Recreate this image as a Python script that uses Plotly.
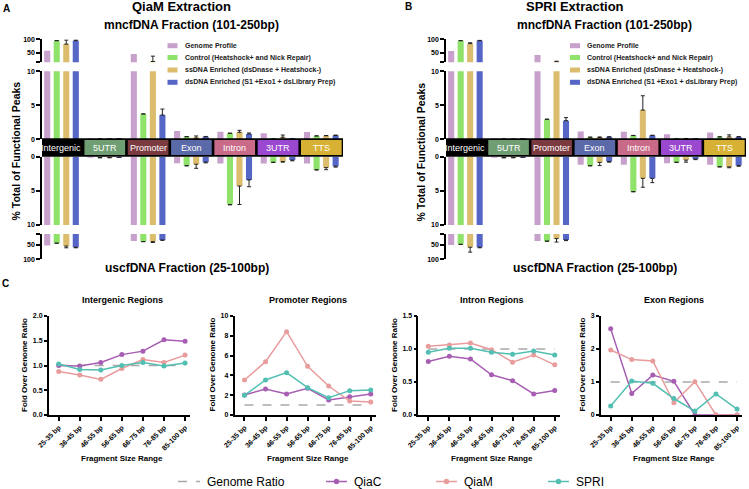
import plotly.graph_objects as go

W, H = 749, 489
FONT = "Liberation Sans, Arial, sans-serif"

# ---------------- data ----------------
categories = ["Intergenic", "5UTR", "Promoter", "Exon", "Intron", "3UTR", "TTS"]
series_names = ["Genome Profile", "Control (Heatshock+ and Nick Repair)",
                "ssDNA Enriched (dsDnase + Heatshock-)",
                "dsDNA Enriched (S1 +Exo1 + dsLibrary Prep)"]

# Panel A: QiaM extraction, mncfDNA (101-250bp)
qiam_mn_genome = [57, 0.02, 45, 1.22, 1.12, 0.88, 1.07]
qiam_mn_control = [95, 0.03, 3.72, 0.38, 0.88, 0.03, 0.49]
qiam_mn_ss = [82, 0.03, 17, 0.15, 1.03, 0.3, 0.52]
qiam_mn_ss_err = [15, 0, 20, 0.34, 0.29, 0.33, 0.04]
qiam_mn_ds = [95, 0.03, 3.57, 0.38, 0.78, 0.03, 0.56]
qiam_mn_ds_err = [2, 0, 0.88, 0.04, 0.15, 0, 0.06]
# Panel A: QiaM extraction, uscfDNA (25-100bp)
qiam_us_genome = [52, 0.05, 36, 0.97, 1.0, 1.0, 1.0]
qiam_us_control = [44, 0.12, 38.5, 1.3, 7.0, 0.8, 1.9]
qiam_us_ss = [54, 0.12, 38.5, 1.1, 4.3, 0.7, 1.6]
qiam_us_ss_err = [6, 0.04, 3, 0.6, 2.7, 0.1, 0.3]
qiam_us_ds = [58, 0.06, 33, 0.8, 3.4, 0.5, 1.4]
qiam_us_ds_err = [2, 0, 1, 0.1, 1.0, 0.1, 0.12]

# Panel B: SPRI extraction, mncfDNA (101-250bp)
spri_mn_genome = [56, 0.02, 41, 1.15, 1.1, 0.75, 1.0]
spri_mn_control = [95, 0.02, 2.94, 0.3, 0.55, 0.03, 0.35]
spri_mn_ss = [84, 0.02, 16, 0.25, 4.3, 0.02, 0.35]
spri_mn_ss_err = [3, 0, 2, 0.1, 2.1, 0.1, 0.3]
spri_mn_ds = [95, 0.02, 2.74, 0.35, 0.55, 0.03, 0.35]
spri_mn_ds_err = [1, 0, 0.45, 0.03, 0.05, 0, 0.05]
# Panel B: SPRI extraction, uscfDNA (25-100bp)
spri_us_genome = [50, 0.05, 36, 1.17, 1.17, 0.97, 1.17]
spri_us_control = [48, 0.12, 37, 1.3, 5.1, 0.8, 1.46]
spri_us_ss = [58, 0.12, 28, 0.83, 3.17, 0.5, 1.5]
spri_us_ss_err = [17, 0.04, 12, 0.47, 1.3, 0.3, 0.12]
spri_us_ds = [58, 0.06, 33, 0.7, 3.17, 0.35, 1.3]
spri_us_ds_err = [2, 0, 2, 0.1, 0.63, 0.08, 0.1]

# Panel C: fold over genome ratio
size_ranges = ["25-35 bp", "36-45 bp", "46-55 bp", "56-65 bp", "66-75 bp", "76-85 bp", "85-100 bp"]
genome_ratio = [1, 1, 1, 1, 1, 1, 1]
intergenic_qiac = [1.0, 0.99, 1.06, 1.22, 1.29, 1.52, 1.49]
intergenic_qiam = [0.88, 0.81, 0.72, 0.94, 1.12, 1.06, 1.21]
intergenic_spri = [1.03, 0.92, 0.91, 1.0, 1.06, 0.99, 1.05]
promoter_qiac = [2.02, 2.63, 2.12, 2.69, 1.52, 1.85, 2.12]
promoter_qiam = [3.54, 5.39, 8.42, 4.92, 2.93, 1.41, 1.31]
promoter_spri = [1.99, 3.54, 4.28, 2.76, 1.75, 2.46, 2.53]
intron_qiac = [0.81, 0.89, 0.85, 0.61, 0.52, 0.32, 0.37]
intron_qiam = [1.04, 1.06, 1.09, 0.99, 0.80, 0.91, 0.76]
intron_spri = [0.95, 1.01, 1.01, 0.95, 0.92, 0.97, 0.91]
exon_qiac = [2.61, 0.65, 1.21, 1.02, 0.0, 0.0, 0.0]
exon_qiam = [1.97, 1.68, 1.64, 0.37, 1.01, 0.0, 0.0]
exon_spri = [0.27, 1.03, 0.96, 0.50, 0.12, 0.64, 0.18]

# ---------------- styles ----------------
BAR_COLORS = ["#c7a0cc", "#8fe26a", "#dcbd6e", "#5566c6"]
STRIP_COLORS = ["#000000", "#6f9e72", "#7b3a40", "#5a69a8", "#c96b88", "#9b48d0", "#d6b133"]
LINE_COLORS = {"QiaC": "#a65db2", "QiaM": "#e99c9c", "SPRI": "#52bfb2"}


def fx(px):
    return px / W


def fy(px):
    return 1 - px / H


def dom(top, bottom):
    return [1 - bottom / H, 1 - top / H]


fig = go.Figure()

panels = [
    dict(xa="x", xkey="xaxis", ys=["y", "y2", "y3", "y4"], xdom=(42, 343),
         upper=[qiam_mn_genome, qiam_mn_control, qiam_mn_ss, qiam_mn_ds],
         upper_err=[None, [0.02] * 7, qiam_mn_ss_err, qiam_mn_ds_err],
         lower=[qiam_us_genome, qiam_us_control, qiam_us_ss, qiam_us_ds],
         lower_err=[None, [0.05] * 7, qiam_us_ss_err, qiam_us_ds_err]),
    dict(xa="x2", xkey="xaxis2", ys=["y5", "y6", "y7", "y8"], xdom=(446, 746),
         upper=[spri_mn_genome, spri_mn_control, spri_mn_ss, spri_mn_ds],
         upper_err=[None, [0.02] * 7, spri_mn_ss_err, spri_mn_ds_err],
         lower=[spri_us_genome, spri_us_control, spri_us_ss, spri_us_ds],
         lower_err=[None, [0.05] * 7, spri_us_ss_err, spri_us_ds_err]),
]

for p in panels:
    for k, ya in enumerate(p["ys"]):
        vals = p["upper"] if k < 2 else p["lower"]
        errs = p["upper_err"] if k < 2 else p["lower_err"]
        for s in range(4):
            kw = {}
            if errs[s] is not None:
                kw["error_y"] = dict(type="data", symmetric=False, array=errs[s],
                                     arrayminus=[0] * 7, color="#222222",
                                     thickness=1, width=2)
            fig.add_trace(go.Bar(x=categories, y=vals[s], xaxis=p["xa"], yaxis=ya,
                                 marker=dict(color=BAR_COLORS[s], line=dict(width=0)),
                                 name=series_names[s], showlegend=False, **kw))


def yax(domain, rng, tickvals, ticktext, anchor, size=7):
    return dict(domain=domain, range=rng, tickvals=tickvals, ticktext=ticktext,
                anchor=anchor, showline=True, linecolor="black", linewidth=1.5,
                ticks="outside", ticklen=4, tickwidth=1.5, tickcolor="black",
                tickfont=dict(size=size, family=FONT, color="black", weight="bold"),
                showgrid=False, zeroline=False, fixedrange=True, automargin=False)


layout_axes = {}
for p in panels:
    layout_axes[p["xkey"]] = dict(domain=[fx(p["xdom"][0]), fx(p["xdom"][1])],
                                  range=[-0.45, 6.5], visible=False, type="category",
                                  anchor=p["ys"][2], fixedrange=True, automargin=False)
    names = ["yaxis" + ys[1:] for ys in p["ys"]]
    layout_axes[names[0]] = yax(dom(39.3, 62.3), [14, 100], [14, 50, 100], ["", "50", "100"], p["xa"])
    layout_axes[names[1]] = yax(dom(71.3, 139.3), [0, 10], [0, 5, 10], ["0", "5", "10"], p["xa"])
    layout_axes[names[2]] = yax(dom(156.7, 225), [10, 0], [0, 5, 10], ["0", "5", "10"], p["xa"])
    layout_axes[names[3]] = yax(dom(234, 259.3), [100, 12], [12, 50, 100], ["", "50", "100"], p["xa"])

# ---------------- panel C ----------------
regions = [
    ("Intergenic Regions", intergenic_qiac, intergenic_qiam, intergenic_spri, [0, 2],
     [0, 0.5, 1.0, 1.5, 2.0], ["0.0", "0.5", "1.0", "1.5", "2.0"], (48.7, 190.3), 122, 24),
    ("Promoter Regions", promoter_qiac, promoter_qiam, promoter_spri, [0, 10],
     [0, 2, 4, 6, 8, 10], ["0", "2", "4", "6", "8", "10"], (234.5, 376.0), 308, 211.5),
    ("Intron Regions", intron_qiac, intron_qiam, intron_spri, [0, 1.5],
     [0, 0.5, 1.0, 1.5], ["0.0", "0.5", "1.0", "1.5"], (418.3, 560.0), 492, 394),
    ("Exon Regions", exon_qiac, exon_qiam, exon_spri, [0, 3],
     [0, 1, 2, 3], ["0", "1", "2", "3"], (600.7, 742.3), 674, 581.5),
]

annotations = []


def ann(text, x, y, size, bold=False, color="black", xanchor="center", angle=0,
        xref="paper"):
    return dict(text=text, x=x if xref != "paper" else fx(x), y=fy(y), xref=xref,
                yref="paper", showarrow=False, xanchor=xanchor, yanchor="middle",
                textangle=angle,
                font=dict(family=FONT, size=size, color=color,
                          weight="bold" if bold else "normal"))


for i, (title, qc, qm, sp, rng, tv, tt, xd, cx, ytx) in enumerate(regions):
    xa = "x%d" % (i + 3)
    ya = "y%d" % (i + 9)
    fig.add_trace(go.Scatter(x=size_ranges, y=genome_ratio, xaxis=xa, yaxis=ya, mode="lines",
                             line=dict(color="#a9a9a9", dash="dash", width=1.5),
                             name="Genome Ratio", showlegend=False))
    for name, vals in (("QiaC", qc), ("QiaM", qm), ("SPRI", sp)):
        fig.add_trace(go.Scatter(x=size_ranges, y=vals, xaxis=xa, yaxis=ya,
                                 mode="lines+markers", name=name, showlegend=False,
                                 line=dict(color=LINE_COLORS[name], width=1.5),
                                 marker=dict(color=LINE_COLORS[name], size=5)))
    layout_axes["xaxis%d" % (i + 3)] = dict(
        domain=[fx(xd[0]), fx(xd[1])], range=[-0.475, 6.25], type="category",
        anchor=ya, showline=True, linecolor="black", linewidth=1.5, ticks="outside",
        ticklen=4, tickwidth=1.5, tickcolor="black", tickangle=-45, showgrid=False,
        zeroline=False, fixedrange=True, automargin=False,
        tickfont=dict(size=7, family=FONT, color="black", weight="bold"))
    layout_axes["yaxis%d" % (i + 9)] = yax(dom(316, 415), rng, tv, tt, xa)
    layout_axes["yaxis%d" % (i + 9)]["ticklen"] = 3
    annotations.append(ann(title, cx, 300, 9, bold=True))
    annotations.append(ann("Fragment Size Range", cx, 458, 8, bold=True))
    annotations.append(ann("Fold Over Genome Ratio", ytx, 365, 8, bold=True, angle=-90))

# ---------------- texts for A and B ----------------
annotations += [
    ann("A", 7, 8, 10, bold=True),
    ann("QiaM Extraction", 181, 7, 13, bold=True),
    ann("mncfDNA Fraction (101-250bp)", 191.5, 25, 12, bold=True),
    ann("uscfDNA Fraction (25-100bp)", 187, 268, 12, bold=True),
    ann("% Total of Functional Peaks", 15, 151.5, 10.5, bold=True, angle=-90),
    ann("B", 408, 7, 10, bold=True),
    ann("SPRI Extraction", 575, 7, 13, bold=True),
    ann("mncfDNA Fraction (101-250bp)", 604, 25, 12, bold=True),
    ann("uscfDNA Fraction (25-100bp)", 595, 268, 12, bold=True),
    ann("% Total of Functional Peaks", 420, 151.5, 10.5, bold=True, angle=-90),
    ann("C", 5, 283, 10, bold=True),
]

shapes = []
# category strip
for p in panels:
    shapes.append(dict(type="rect", xref=p["xa"], yref="paper", x0=-0.5, x1=6.5,
                       y0=fy(156.7), y1=fy(138.3), fillcolor="black", line=dict(width=0),
                       layer="above"))
    for i, c in enumerate(categories):
        shapes.append(dict(type="rect", xref=p["xa"], yref="paper", x0=i - 0.47, x1=i + 0.47,
                           y0=fy(155), y1=fy(140), fillcolor=STRIP_COLORS[i],
                           line=dict(width=0), layer="above"))
        annotations.append(ann(c, c, 147.7, 9, color="white", xref=p["xa"]))

# legends A and B
legend_rows = [45.7, 57.5, 70, 82.3]
for lx in (167.5, 570):
    for s in range(4):
        shapes.append(dict(type="rect", xref="paper", yref="paper", x0=fx(lx), x1=fx(lx + 10),
                           y0=fy(legend_rows[s] + 2.5), y1=fy(legend_rows[s] - 2.5),
                           fillcolor=BAR_COLORS[s], line=dict(width=0)))
        annotations.append(ann(series_names[s], lx + 15, legend_rows[s], 7, bold=True,
                               color="#222222", xanchor="left"))

# legend C
LY = 481.5
shapes.append(dict(type="line", xref="paper", yref="paper", x0=fx(178), x1=fx(200),
                   y0=fy(LY), y1=fy(LY), line=dict(color="#a9a9a9", width=1.5, dash="dash")))
annotations.append(ann("Genome Ratio", 204.5, LY, 12, xanchor="left"))
for name, x0, x1, tx in (("QiaC", 326, 347, 351.5), ("QiaM", 436, 457, 462), ("SPRI", 548, 569, 574)):
    shapes.append(dict(type="line", xref="paper", yref="paper", x0=fx(x0), x1=fx(x1),
                       y0=fy(LY), y1=fy(LY), line=dict(color=LINE_COLORS[name], width=1.5)))
    cx = (x0 + x1) / 2
    shapes.append(dict(type="circle", xref="paper", yref="paper", x0=fx(cx - 2.7), x1=fx(cx + 2.7),
                       y0=fy(LY + 2.7), y1=fy(LY - 2.7), fillcolor=LINE_COLORS[name],
                       line=dict(width=0)))
    annotations.append(ann(name, tx, LY, 12, xanchor="left"))

fig.update_layout(
    width=W, height=H, margin=dict(l=0, r=0, t=0, b=0, autoexpand=False),
    paper_bgcolor="white", plot_bgcolor="white",
    barmode="group", bargap=0.12, bargroupgap=0.36,
    showlegend=False, annotations=annotations, shapes=shapes,
    font=dict(family=FONT, color="black"),
    **layout_axes,
)

fig.write_html("out.html", config={"displayModeBar": False},
               post_script="document.body.style.margin='0px';document.body.style.overflow='hidden';")
